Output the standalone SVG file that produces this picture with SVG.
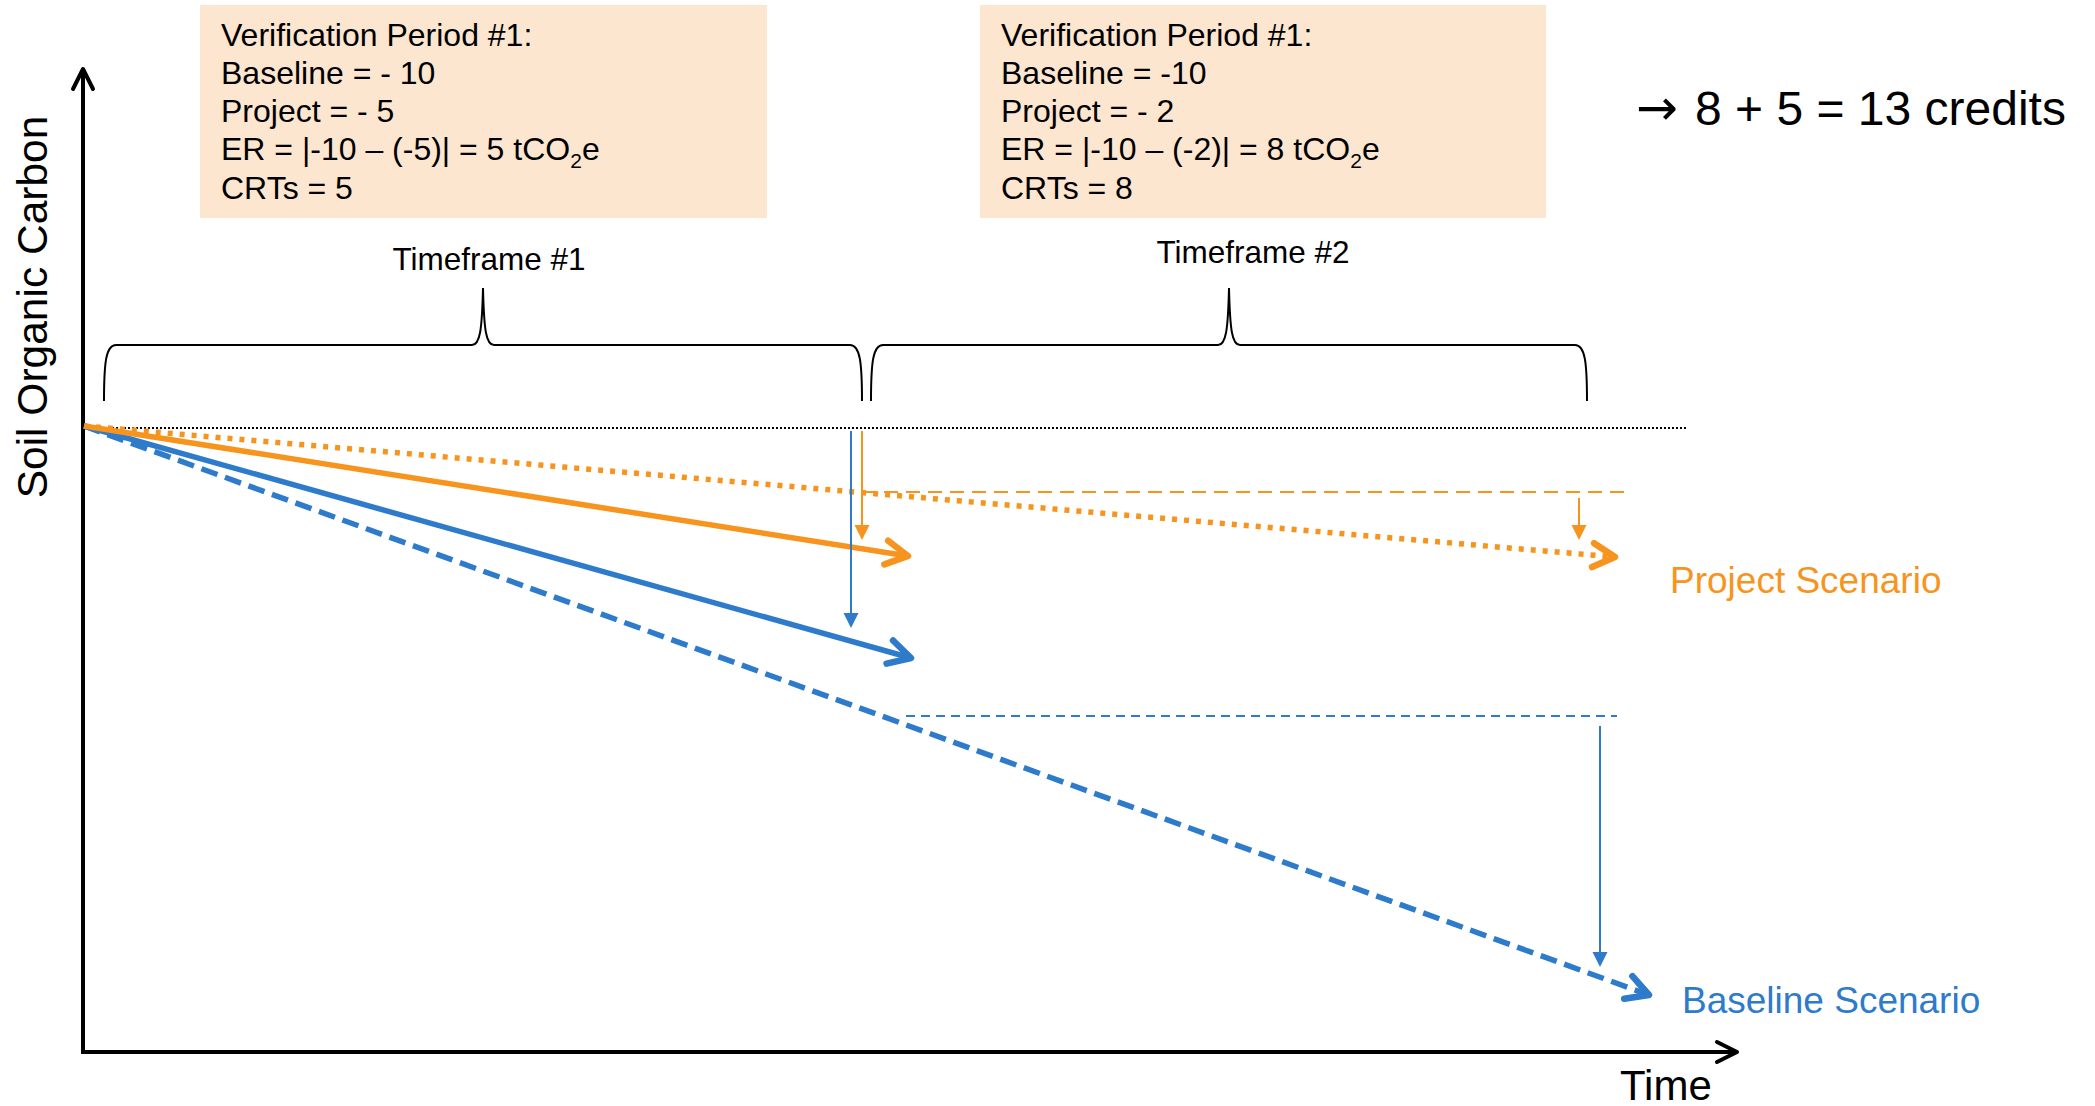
<svg xmlns="http://www.w3.org/2000/svg" width="2095" height="1106" viewBox="0 0 2095 1106">
<style>
text{font-family:"Liberation Sans",Arial,sans-serif;fill:#000;}
.box{fill:#FCE6D0;}
.bt{font-size:32px;}
.sub{font-size:21px;}
.tf{font-size:31.5px;text-anchor:middle;}
.brace{fill:none;stroke:#000;stroke-width:2;}
.axis{stroke:#000;stroke-width:4;fill:none;}
.thickO{stroke:#F7941D;stroke-width:5.5;fill:none;}
.thickB{stroke:#2E7ACB;stroke-width:5.5;fill:none;}
.thinO{stroke:#F7941D;stroke-width:2;fill:none;}
.thinB{stroke:#2E7ACB;stroke-width:2;fill:none;}
.lbl{font-size:37px;}
</style>
<defs>
<marker id="chevO" markerUnits="userSpaceOnUse" orient="auto" overflow="visible" markerWidth="40" markerHeight="40" refX="0" refY="0">
<path d="M-22,-12 L0,0 L-22,12" fill="none" stroke="#F7941D" stroke-width="6.5" stroke-linecap="round" stroke-linejoin="round" stroke-dasharray="none"/>
</marker>
<marker id="chevB" markerUnits="userSpaceOnUse" orient="auto" overflow="visible" markerWidth="40" markerHeight="40" refX="0" refY="0">
<path d="M-22,-12 L0,0 L-22,12" fill="none" stroke="#2E7ACB" stroke-width="6.5" stroke-linecap="round" stroke-linejoin="round" stroke-dasharray="none"/>
</marker>
<marker id="chevK" markerUnits="userSpaceOnUse" orient="auto" overflow="visible" markerWidth="40" markerHeight="40" refX="0" refY="0">
<path d="M-20,-10 L0,0 L-20,10" fill="none" stroke="#000" stroke-width="4" stroke-linecap="round" stroke-linejoin="round"/>
</marker>
<marker id="triO" markerUnits="userSpaceOnUse" orient="auto" overflow="visible" markerWidth="30" markerHeight="30" refX="0" refY="0">
<path d="M-7,-7.5 L8,0 L-7,7.5 z" fill="#F7941D"/>
</marker>
<marker id="triB" markerUnits="userSpaceOnUse" orient="auto" overflow="visible" markerWidth="30" markerHeight="30" refX="0" refY="0">
<path d="M-7,-7.5 L8,0 L-7,7.5 z" fill="#2E7ACB"/>
</marker>
</defs>

<rect width="2095" height="1106" fill="#fff"/>

<g id="box1">
<rect class="box" x="200" y="5" width="567" height="213"/>
<text class="bt" x="221" y="46">Verification Period #1:</text>
<text class="bt" x="221" y="84">Baseline = - 10</text>
<text class="bt" x="221" y="122">Project = - 5</text>
<text class="bt" x="221" y="160">ER = |-10 – (-5)| = 5 tCO<tspan class="sub" dy="8">2</tspan><tspan dy="-8">e</tspan></text>
<text class="bt" x="221" y="199">CRTs = 5</text>
</g>

<g id="box2">
<rect class="box" x="980" y="5" width="566" height="213"/>
<text class="bt" x="1001" y="46">Verification Period #1:</text>
<text class="bt" x="1001" y="84">Baseline = -10</text>
<text class="bt" x="1001" y="122">Project = - 2</text>
<text class="bt" x="1001" y="160">ER = |-10 – (-2)| = 8 tCO<tspan class="sub" dy="8">2</tspan><tspan dy="-8">e</tspan></text>
<text class="bt" x="1001" y="199">CRTs = 8</text>
</g>

<g id="credits">
<text x="1636" y="125" font-size="48"><tspan x="1636" style="font-family:'DejaVu Sans',sans-serif" font-size="50">→</tspan><tspan x="1695">8 + 5 = 13 credits</tspan></text>
</g>

<g id="timeframe1">
<text class="tf" x="489" y="270">Timeframe #1</text>
<path class="brace" d="M104,401 C104,362 106,345 116,345 L472,345 C480,345 482,330 483,288 C484,330 486,345 494,345 L850,345 C860,345 862,362 862,401"/>
</g>

<g id="timeframe2">
<text class="tf" x="1253" y="263">Timeframe #2</text>
<path class="brace" d="M871,401 C871,362 873,345 883,345 L1218,345 C1226,345 1228,330 1229,288 C1230,330 1232,345 1240,345 L1575,345 C1585,345 1587,362 1587,401"/>
</g>

<g id="axes">
<line class="axis" x1="83" y1="1052" x2="83" y2="69" marker-end="url(#chevK)"/>
<line class="axis" x1="81" y1="1052" x2="1737" y2="1052" marker-end="url(#chevK)"/>
<text x="47" y="307" font-size="42.5" text-anchor="middle" transform="rotate(-90 47 307)">Soil Organic Carbon</text>
<text x="1620" y="1100" font-size="42">Time</text>
</g>

<g id="labels">
<text class="lbl" x="1670" y="593" style="fill:#F7941D">Project Scenario</text>
<text class="lbl" x="1682" y="1013" style="fill:#2E7ACB">Baseline Scenario</text>
</g>

<g id="connectors">
<line x1="84" y1="428" x2="1687" y2="428" stroke="#000" stroke-width="2" stroke-dasharray="2 2"/>
<line class="thinO" x1="862" y1="492" x2="1627" y2="492" stroke-dasharray="14 8"/>
<line class="thinB" x1="906" y1="716" x2="1617" y2="716" stroke="#2F6DB5" stroke-dasharray="9 6"/>
<line class="thickB" x1="84" y1="426" x2="1649" y2="995" stroke-dasharray="17 8" marker-end="url(#chevB)"/>
<line class="thickO" x1="84" y1="426" x2="1615" y2="557" stroke-dasharray="5 7" marker-end="url(#chevO)"/>
<line class="thickB" x1="84" y1="426" x2="911" y2="658" marker-end="url(#chevB)"/>
<line class="thickO" x1="84" y1="426" x2="908" y2="556" marker-end="url(#chevO)"/>
<line class="thinO" x1="862" y1="431" x2="862" y2="532" marker-end="url(#triO)"/>
<line class="thinB" x1="851" y1="431" x2="851" y2="620" marker-end="url(#triB)"/>
<line class="thinO" x1="1579" y1="498" x2="1579" y2="532" marker-end="url(#triO)"/>
<line class="thinB" x1="1600" y1="726" x2="1600" y2="959" marker-end="url(#triB)"/>
</g>
</svg>
